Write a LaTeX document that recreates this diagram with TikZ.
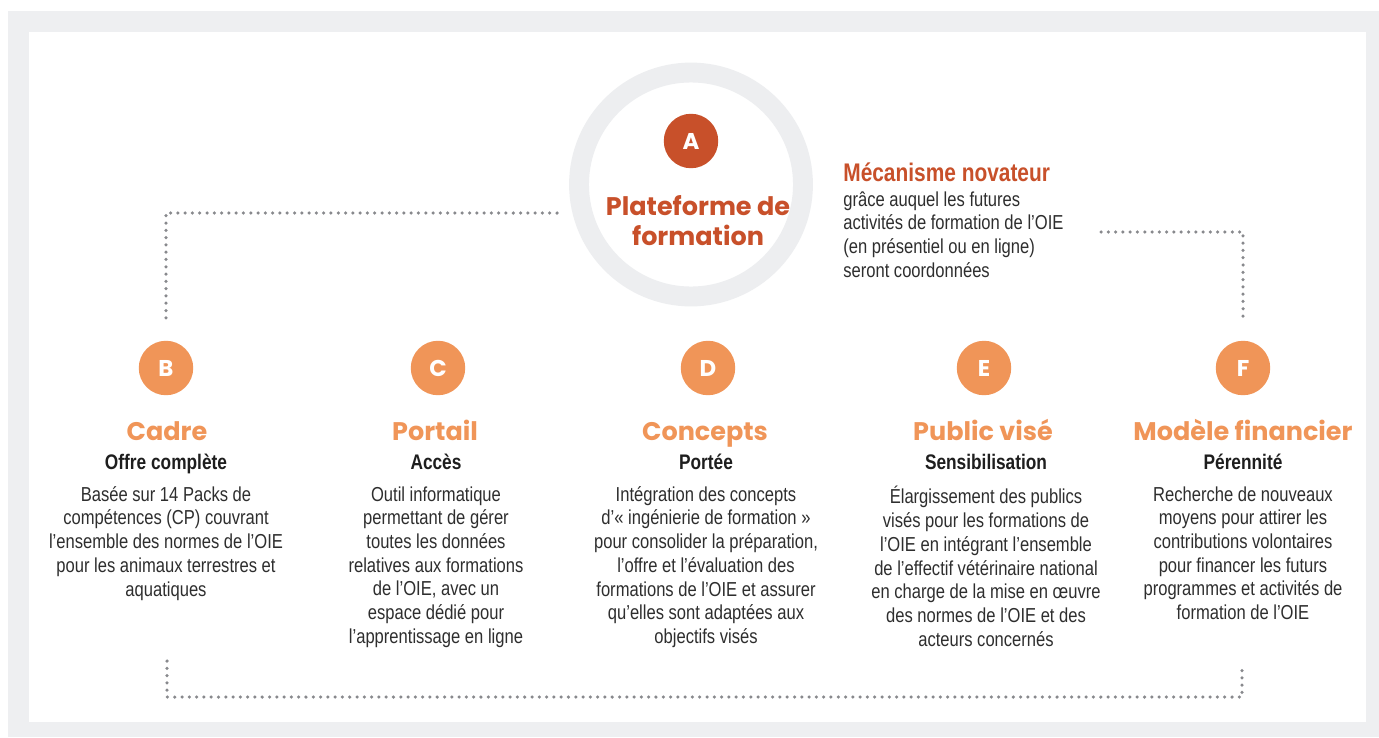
\documentclass[tikz,border=0pt]{standalone}
\usepackage{fontspec}
\setmainfont{Liberation Sans}[FakeStretch=0.82]
\newfontfamily\popfont{Poppins}
\usepackage{xcolor}
\usepackage{tikz}
\usetikzlibrary{positioning}

\definecolor{framegray}{HTML}{EEEFF1}
\definecolor{ringgray}{HTML}{EDEEF0}
\definecolor{dotgray}{HTML}{88898D}
\definecolor{rustorange}{HTML}{C8502A}
\definecolor{softorange}{HTML}{F09558}
\definecolor{headdark}{HTML}{1E1E1E}
\definecolor{bodydark}{HTML}{2E2E2E}

\tikzset{
  dotline/.style={draw=dotgray,line width=2pt,line cap=round,dash pattern=on 0pt off 4.15pt},
  letter/.style={circle,minimum size=31pt,inner sep=0pt,text=white,font=\popfont\bfseries\fontsize{13}{13}\selectfont},
  coltitle/.style={anchor=base,inner sep=0pt,text=softorange,font=\popfont\bfseries\fontsize{14.5}{16}\selectfont},
  colsub/.style={anchor=base,inner sep=0pt,text=headdark,font=\bfseries\fontsize{12}{14}\selectfont},
  colbody/.style={anchor=north,align=center,inner sep=0pt,text=bodydark,font=\fontsize{11.5}{13.5}\selectfont}
}

\begin{document}
\begin{tikzpicture}[x=0.02cm,y=-0.02cm]
\useasboundingbox (0,0) rectangle (1379,737);
% Frame
\fill[framegray] (8,11) rectangle (1379,737);
\fill[white] (29,32) rectangle (1366,722);

% Central platform
\node[circle,draw=ringgray,line width=11.3pt,minimum size=4.48cm,inner sep=0pt] (ring) at (691,184.5) {};
\node[letter,fill=rustorange] (circA) at (691,141) {A};
\node[align=center,inner sep=0pt,text=rustorange,font=\popfont\bfseries\fontsize{14.5}{17}\selectfont] (platform) at (698,221) {Plateforme de\\formation};

% Side note
\node[anchor=base west,inner sep=0pt,text=rustorange,font=\bfseries\fontsize{14.5}{16}\selectfont] (mecatitle) at (843,181) {Mécanisme novateur};
\node[anchor=north west,align=left,inner sep=0pt,text=bodydark,font=\fontsize{11.5}{13.5}\selectfont] (mecabody) at (843,191)
  {grâce auquel les futures\\activités de formation de l’OIE\\(en présentiel ou en ligne)\\seront coordonnées};

% Columns
\node[letter,fill=softorange] (circB) at (166,368) {B};
\node[letter,fill=softorange] (circC) at (438,368) {C};
\node[letter,fill=softorange] (circD) at (708,368) {D};
\node[letter,fill=softorange] (circE) at (984,368) {E};
\node[letter,fill=softorange] (circF) at (1243,368) {F};

\node[coltitle] (titleB) at (167,440) {Cadre};
\node[coltitle] (titleC) at (435,440) {Portail};
\node[coltitle] (titleD) at (705,440) {Concepts};
\node[coltitle] (titleE) at (983,440) {Public visé};
\node[coltitle] (titleF) at (1243,440) {Modèle financier};

\node[colsub] (subB) at (166,469) {Offre complète};
\node[colsub] (subC) at (436,469) {Accès};
\node[colsub] (subD) at (706,469) {Portée};
\node[colsub] (subE) at (986,469) {Sensibilisation};
\node[colsub] (subF) at (1243,469) {Pérennité};

\node[colbody] (bodyB) at (166,486) {Basée sur 14 Packs de\\compétences (CP) couvrant\\l’ensemble des normes de l’OIE\\pour les animaux terrestres et\\aquatiques};
\node[colbody] (bodyC) at (436,486) {Outil informatique\\permettant de gérer\\toutes les données\\relatives aux formations\\de l’OIE, avec un\\espace dédié pour\\l’apprentissage en ligne};
\node[colbody] (bodyD) at (706,486) {Intégration des concepts\\d’«~ingénierie de formation~»\\pour consolider la préparation,\\l’offre et l’évaluation des\\formations de l’OIE et assurer\\qu’elles sont adaptées aux\\objectifs visés};
\node[colbody] (bodyE) at (986,486) {Élargissement des publics\\visés pour les formations de\\l’OIE en intégrant l’ensemble\\de l’effectif vétérinaire national\\en charge de la mise en œuvre\\des normes de l’OIE et des\\acteurs concernés};
\node[colbody] (bodyF) at (1243,486) {Recherche de nouveaux\\moyens pour attirer les\\contributions volontaires\\pour financer les futurs\\programmes et activités de\\formation de l’OIE};

% Dotted connectors
\coordinate (lstart) at (557,213);
\coordinate (rstart) at (1101,232);
\coordinate (bleft) at (167,661);
\coordinate (bright) at (1242,668);
\coordinate (bbase) at (0,697);
\draw[dotline,shorten >=10pt] (lstart) -| (circB.north);
\draw[dotline,shorten >=10pt] (rstart) -| (circF.north);
\draw[dotline] (bleft) -- (bleft |- bbase) -- (bright |- bbase) -- (bright);
\end{tikzpicture}
\end{document}
